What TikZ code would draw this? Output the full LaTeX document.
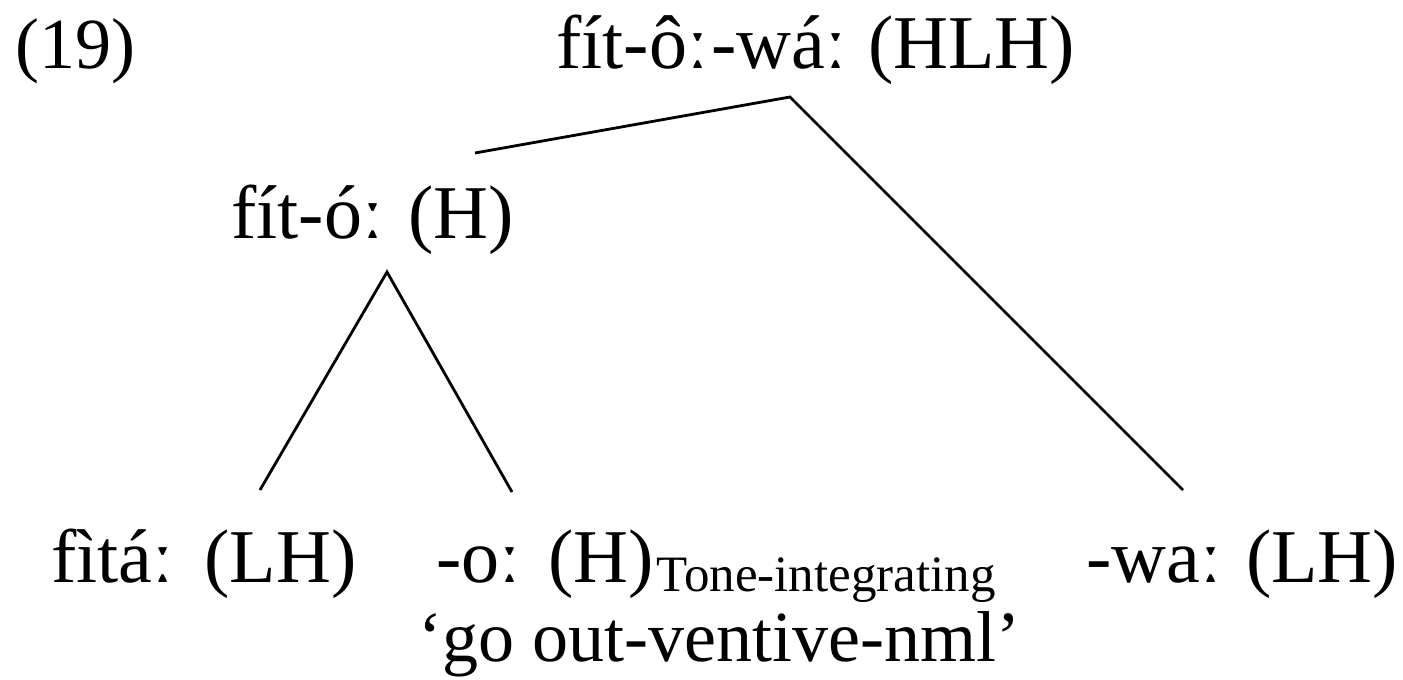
\documentclass[tikz,border=0pt]{standalone}
\usepackage{fontspec}
\setmainfont{Liberation Serif}
\begin{document}
\begin{tikzpicture}[x=1pt,y=-1pt,
  lbl/.style={anchor=base west,inner sep=0pt,font=\fontsize{76}{90}\selectfont},
  numstyle/.style={anchor=base west,inner sep=0pt,font=\fontsize{72}{86}\selectfont},
  glossstyle/.style={anchor=base west,inner sep=0pt,font=\fontsize{72}{86}\selectfont},
  sub/.style={anchor=base west,inner sep=0pt,font=\fontsize{51}{61}\selectfont},
  branch/.style={line width=2.8pt}]
\useasboundingbox (0,0) rectangle (1403,680);
\node[numstyle] (ex) at (15,68) {(19)};
\node[lbl] (top) at (556,68) {fít-ôː\kern3pt-wáː\kern3pt{} (HLH)};
\node[lbl] (mid) at (231,238) {fít-óː\kern6pt{} (H)};
\node[lbl] (l1) at (51,582) {fìtáː\kern12pt{} (LH)};
\node[lbl] (l2) at (436,582) {-oː\kern9pt{} (H)};
\node[sub] (l2s) at (l2.base east) [xshift=2pt,yshift=-9pt] {Tone-integrating};
\node[lbl] (l3) at (1086,582) {-waː\kern6pt{} (LH)};
\node[glossstyle] (gl) at (418,661) {‘go out-ventive-nml’};
\coordinate (topapex) at (790,97);
\coordinate (midL) at (475,153);
\coordinate (l3top) at (1183,490);
\coordinate (midapex) at (387,272);
\coordinate (l1top) at (260,490);
\coordinate (l2top) at (512,492);
\draw[branch] (midL) -- (topapex) -- (l3top);
\draw[branch] (l1top) -- (midapex) -- (l2top);
\end{tikzpicture}
\end{document}
